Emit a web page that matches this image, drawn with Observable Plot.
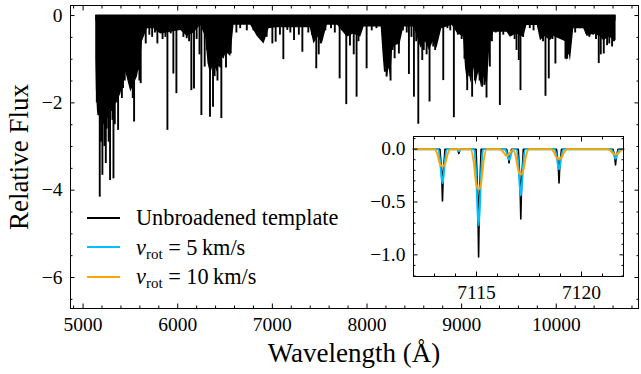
<!DOCTYPE html>
<html><head><meta charset="utf-8">
<script src="https://cdn.jsdelivr.net/npm/d3@7"></script>
<script src="https://cdn.jsdelivr.net/npm/@observablehq/plot@0.6"></script>
<style>
body{margin:0;background:#fff;}
#wrap{position:relative;width:641px;height:374px;font-family:"Liberation Serif",serif;color:#000;overflow:hidden;}
#main,#inset{position:absolute;left:0;top:0;}
#inset{left:360px;top:125px;}
#legend{position:absolute;left:87px;top:203px;font-size:22.3px;line-height:29.5px;}
#legend .row{display:flex;align-items:center;height:29.5px;}
#legend .sw{width:33px;height:0;border-top:2px solid;margin-right:16px;}
#legend sub{font-size:15px;vertical-align:-4px;line-height:0;}
#xlabel{position:absolute;left:0;width:708px;top:338px;text-align:center;font-size:27px;}
#ylabel{position:absolute;left:19px;top:157px;transform:translate(-50%,-50%) rotate(-90deg);font-size:27px;white-space:nowrap;}
</style></head><body>
<div id="wrap">
<div id="main"></div>
<div id="inset"></div>
<div id="legend"></div>
<div id="xlabel">Wavelength (Å)</div>
<div id="ylabel">Relative Flux</div>
</div>
<script>
// ---- main spectrum: lower boundary of the dense absorption "fill"
const envWave = [5134,5140,5152,5187,5257,5328,5398,5451,5504,5574,5610,5627,5680,5750,5820,5926,6032,6102,6172,6243,6296,6320,6348,6380,6419,6450,6489,6520,6560,6595,6700,6771,6841,6912,6965,7050,7200,7400,7440,7480,7528,7580,7690,7792,7860,7933,7970,8150,8170,8185,8200,8215,8235,8250,8270,8290,8350,8390,8500,8570,8620,8660,8700,8740,8790,8900,8953,9020,9041,9060,9080,9100,9129,9150,9180,9210,9240,9270,9300,9340,9480,9515,9580,9657,9690,9800,9833,9880,9938,9973,10100,10114,10130,10150,10185,10290,10326,10400,10466,10501,10560,10632];
const envFlux = [-1.0,-1.7,-2.2,-2.4,-2.2,-2.1,-1.8,-1.3,-1.75,-1.4,-1.0,-0.6,-0.3,-0.3,-0.42,-0.38,-0.34,-0.48,-0.4,-0.22,-0.5,-1.1,-1.35,-1.1,-1.3,-0.9,-1.0,-0.8,-0.95,-0.22,-0.22,-0.22,-0.48,-0.65,-0.3,-0.28,-0.28,-0.28,-0.65,-0.5,-0.65,-0.22,-0.22,-0.5,-0.42,-0.5,-0.26,-0.26,-0.9,-1.3,-1.1,-1.4,-1.2,-1.45,-0.8,-0.7,-0.65,-0.26,-0.26,-0.75,-0.6,-0.8,-0.6,-0.75,-0.3,-0.22,-0.4,-0.5,-1.2,-1.5,-1.3,-1.55,-1.2,-1.6,-1.3,-1.65,-1.4,-1.65,-0.65,-0.38,-0.38,-0.5,-0.42,-0.5,-0.23,-0.23,-0.58,-0.48,-0.58,-0.48,-0.6,-1.05,-0.8,-1.05,-0.3,-0.3,-0.48,-0.42,-0.48,-0.58,-0.5,-0.58];
// ---- individual absorption lines (centre, depth)
const lineWave = [5176,5204,5240,5285,5321,5370,5160,5215,5262,5300,5345,5390,5422,5450,5486,5511,5539,5581,5609,5637,5662,5785,5891,5926,5954,5986,6017,6095,6144,6172,6250,6285,6341,6373,6401,6436,6461,6489,6525,6560,6870,
6900,7000,7035,7116,7158,7229,7317,7334,7464,7510,7711,7781,7890,7933,7996,8207,8249,8292,8337,8443,8496,8542,8584,8661,8700,8806,
8918,9059,9111,9175,9217,9263,9298,9404,9534,9604,9622,9833,9886,9921,9991,10097,10115,10315,10449,10502,10537,10590,
5145,5190,5225,5250,5270,5310,5335,5355,5410,5440,5470,5525,5560,5595,5700,5730,5760,5840,5870,6060,6120,6200,6230,6310,6390,6420,6450,6510,6540,6620,6660,6730,6800,6850,6940,7080,7190,7280,7380,7420,7490,7560,7620,7660,7740,7820,7860,7910,8050,8100,8190,8230,8270,8380,8420,8470,8520,8600,8630,8720,8760,8850,8880,8960,9000,9030,9080,9140,9190,9240,9320,9360,9440,9480,9560,9580,9650,9720,9760,9860,9960,10030,10060,10130,10200,10250,10350,10390,10420,10470,10560,10610];
const lineFlux = [-4.16,-3.66,-3.39,-3.78,-3.74,-2.63,-2.29,-2.5,-2.35,-2.2,-1.72,-1.64,-1.67,-1.0,-1.1,-1.64,-2.44,-1.26,-1.56,-0.42,-0.65,-0.65,-2.63,-0.42,-1.34,-1.79,-0.27,-0.53,-1.72,-1.68,-2.29,-1.18,-2.33,-2.1,-1.1,-1.18,-2.36,-0.8,-0.88,-0.88,-0.42,
-0.57,-0.65,-0.61,-1.01,-0.34,-0.57,-0.84,-0.27,-1.22,-0.65,-1.45,-2.04,-1.87,-0.34,-1.22,-1.41,-1.5,-0.99,-0.88,-1.35,-1.87,-2.49,-1.03,-1.98,-0.72,-1.49,
-2.34,-1.72,-1.87,-0.95,-1.64,-1.89,-1.18,-2.06,-0.46,-1.03,-1.72,-0.42,-1.85,-1.45,-1.11,-1.0,-1.0,-0.42,-1.1,-0.88,-0.69,-0.72,
-2.0,-2.9,-3.0,-2.6,-2.9,-2.4,-2.5,-2.0,-1.9,-1.5,-1.3,-1.9,-1.4,-1.5,-0.45,-0.5,-0.4,-0.55,-0.5,-0.5,-0.6,-0.55,-0.9,-0.8,-1.4,-1.5,-1.2,-1.2,-0.9,-0.4,-0.3,-0.35,-0.35,-0.45,-0.5,-0.45,-0.4,-0.45,-0.4,-0.45,-0.9,-0.35,-0.3,-0.4,-0.35,-0.7,-0.9,-0.6,-0.35,-0.3,-1.3,-1.2,-0.8,-0.35,-0.4,-0.5,-0.6,-0.8,-0.9,-0.8,-0.4,-0.3,-0.35,-0.45,-0.55,-1.0,-1.4,-1.5,-1.5,-1.6,-0.6,-0.4,-0.45,-0.35,-0.55,-0.8,-0.5,-0.3,-0.35,-0.6,-0.55,-0.45,-0.5,-0.9,-0.4,-0.3,-0.5,-0.45,-0.55,-0.9,-0.65,-0.6];
// ---- inset: zoom on 7112-7122 A
const tplWave = [7112,7113.26,7113.34,7113.38,7113.42,7113.50,7114.10,7114.16,7114.22,7114.98,7115.06,7115.10,7115.14,7115.22,7116.43,7116.51,7116.55,7116.59,7116.67,7116.99,7117.07,7117.11,7117.15,7117.23,7118.81,7118.89,7118.93,7118.97,7119.05,7121.50,7121.58,7121.62,7121.66,7121.74,7122];
const tplFlux = [0,0,-0.22,-0.49,-0.22,0,0,-0.04,0,0,-0.46,-1.02,-0.46,0,0,-0.06,-0.13,-0.06,0,0,-0.30,-0.66,-0.30,0,0,-0.14,-0.32,-0.14,0,0,-0.07,-0.15,-0.07,0,0];
const v5Wave = [7112,7113.16,7113.26,7113.33,7113.38,7113.43,7113.50,7113.60,7114.06,7114.16,7114.26,7114.88,7114.98,7115.05,7115.10,7115.15,7115.22,7115.32,7116.33,7116.43,7116.50,7116.55,7116.60,7116.67,7116.77,7116.89,7116.99,7117.06,7117.11,7117.16,7117.23,7117.33,7118.71,7118.81,7118.88,7118.93,7118.98,7119.05,7119.15,7121.40,7121.50,7121.57,7121.62,7121.67,7121.74,7121.84,7122];
const v5Flux = [0,0,-0.10,-0.26,-0.32,-0.26,-0.10,0,0,-0.02,0,0,-0.22,-0.58,-0.72,-0.58,-0.22,0,0,-0.03,-0.08,-0.10,-0.08,-0.03,0,0,-0.13,-0.35,-0.44,-0.35,-0.13,0,0,-0.06,-0.15,-0.19,-0.15,-0.06,0,0,-0.03,-0.07,-0.09,-0.07,-0.03,0,0];
const v10Wave = [7112,7113.00,7113.14,7113.26,7113.38,7113.50,7113.62,7113.76,7114.72,7114.86,7114.98,7115.10,7115.22,7115.34,7115.48,7116.10,7116.25,7116.35,7116.45,7116.55,7116.65,7116.73,7116.87,7116.99,7117.11,7117.23,7117.35,7117.49,7118.55,7118.69,7118.81,7118.93,7119.05,7119.17,7119.31,7121.24,7121.38,7121.50,7121.62,7121.74,7121.86,7122];
const v10Flux = [0,0,-0.05,-0.14,-0.165,-0.14,-0.05,0,0,-0.11,-0.32,-0.38,-0.32,-0.11,0,0,-0.02,-0.05,-0.065,-0.05,-0.02,-0.005,-0.07,-0.20,-0.24,-0.20,-0.07,0,0,-0.03,-0.08,-0.09,-0.08,-0.03,0,0,-0.015,-0.04,-0.05,-0.04,-0.015,0];
// ---- ticks
const xMajor = [5000,6000,7000,8000,9000,10000];
const xMinor = [4900,5200,5400,5600,5800,6200,6400,6600,6800,7200,7400,7600,7800,8200,8400,8600,8800,9200,9400,9600,9800,10200,10400,10600,10800];
const yMajor = [0,-2,-4,-6];
const yMinor = [-0.5,-1,-1.5,-2.5,-3,-3.5,-4.5,-5,-5.5,-6.5];
const inXMajor = [7115,7120];
const inXMinor = [7112,7113,7114,7116,7117,7118,7119,7121,7122];
const inYMajor = [0,-0.5,-1.0];
const inYMinor = [0.1,-0.1,-0.2,-0.3,-0.4,-0.6,-0.7,-0.8,-0.9,-1.1,-1.2];
const legendItems = [
  {label: "Unbroadened template", color: "#000000"},
  {label: "<i>v</i><sub>rot</sub> = 5&#8201;km/s", color: "#00BFFF"},
  {label: "<i>v</i><sub>rot</sub> = 10&#8201;km/s", color: "#FFA500"}
];
const env = envWave.map((w, i) => ({w, f: envFlux[i]}));
const lines = lineWave.map((w, i) => ({w, f: lineFlux[i]}));
const tpl = tplWave.map((w, i) => ({w, f: tplFlux[i]}));
const v5 = v5Wave.map((w, i) => ({w, f: v5Flux[i]}));
const v10 = v10Wave.map((w, i) => ({w, f: v10Flux[i]}));

const blank = () => "";
function tickAxes(xMaj, xMin, yMaj, yMin, maj, mnr) {
  const o = {tickFormat: blank, label: null};
  return [
    Plot.axisX(xMaj, {...o, anchor: "bottom", tickSize: -maj}),
    Plot.axisX(xMaj, {...o, anchor: "top", tickSize: -maj}),
    Plot.axisX(xMin, {...o, anchor: "bottom", tickSize: -mnr}),
    Plot.axisX(xMin, {...o, anchor: "top", tickSize: -mnr}),
    Plot.axisY(yMaj, {...o, anchor: "left", tickSize: -maj}),
    Plot.axisY(yMaj, {...o, anchor: "right", tickSize: -maj}),
    Plot.axisY(yMin, {...o, anchor: "left", tickSize: -mnr}),
    Plot.axisY(yMin, {...o, anchor: "right", tickSize: -mnr})
  ];
}
const font = {fontFamily: "'Liberation Serif', serif", fontSize: "19.5px", background: "transparent", overflow: "visible"};

const main = Plot.plot({
  width: 641, height: 374,
  marginLeft: 70, marginRight: 3, marginTop: 5, marginBottom: 66,
  style: font,
  x: {domain: [4867, 10869]},
  y: {domain: [-6.71, 0.23]},
  marks: [
    Plot.areaY(env, {x: "w", y1: 0, y2: "f", fill: "black"}),
    Plot.ruleX(lines, {x: "w", y1: 0, y2: "f", stroke: "black", strokeWidth: 1.9}),
    Plot.ruleY([0], {x1: 5134, x2: 10632, stroke: "black", strokeWidth: 6, dy: 2}),
    Plot.frame({stroke: "black", strokeWidth: 1}),
    ...tickAxes(xMajor, xMinor, yMajor, yMinor, 4.5, 2.5),
    Plot.axisX(xMajor, {anchor: "bottom", label: null, tickSize: 0, tickPadding: 9, tickFormat: d3.format("d")}),
    Plot.axisY(yMajor, {anchor: "left", label: null, tickSize: 0, tickPadding: 8, tickFormat: d3.format("d")})
  ]
});
document.getElementById("main").append(main);

const inset = Plot.plot({
  width: 270, height: 185,
  marginLeft: 53, marginRight: 7, marginTop: 11, marginBottom: 34,
  style: font,
  x: {domain: [7112, 7122]},
  y: {domain: [-1.205, 0.12]},
  marks: [
    Plot.frame({fill: "white"}),
    Plot.line(tpl, {x: "w", y: "f", stroke: "black", strokeWidth: 1.6}),
    Plot.line(v5, {x: "w", y: "f", stroke: "#00BFFF", strokeWidth: 2, curve: "monotone-x"}),
    Plot.line(v10, {x: "w", y: "f", stroke: "#FFA500", strokeWidth: 2, curve: "monotone-x"}),
    Plot.frame({stroke: "black", strokeWidth: 1}),
    ...tickAxes(inXMajor, inXMinor, inYMajor, inYMinor, 4.5, 2.5),
    Plot.axisX(inXMajor, {anchor: "bottom", label: null, tickSize: 0, tickPadding: 9, tickFormat: d3.format("d")}),
    Plot.axisY(inYMajor, {anchor: "left", label: null, tickSize: 0, tickPadding: 8, tickFormat: d3.format(".1f")})
  ]
});
document.getElementById("inset").append(inset);

const leg = document.getElementById("legend");
for (const it of legendItems) {
  const row = document.createElement("div");
  row.className = "row";
  row.innerHTML = `<span class="sw" style="border-color:${it.color}"></span><span>${it.label}</span>`;
  leg.append(row);
}
</script>
</body></html>
